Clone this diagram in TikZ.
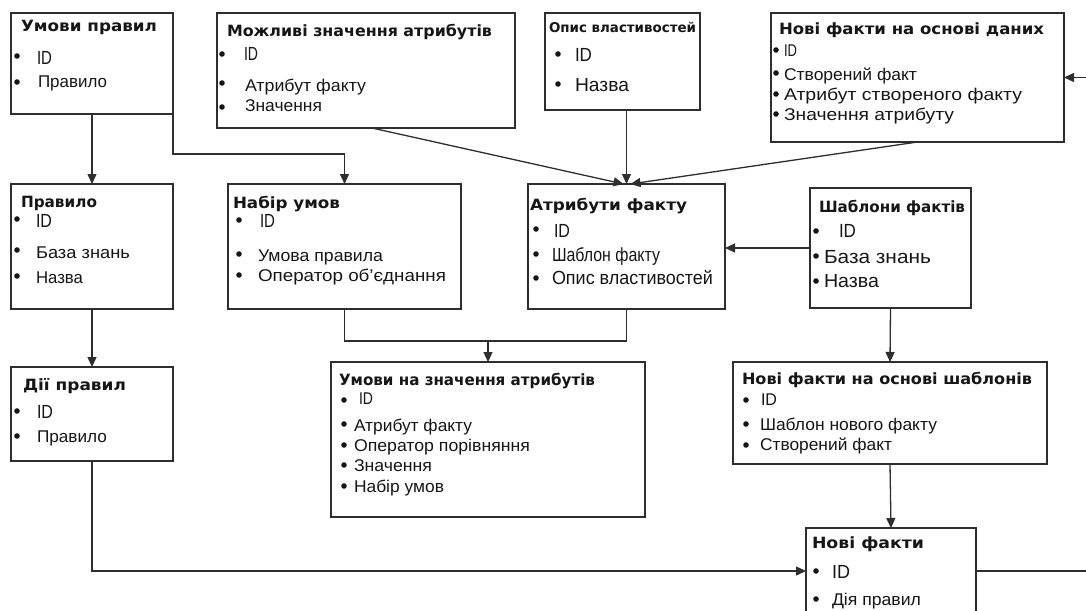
\documentclass[tikz,border=0pt]{standalone}
\usepackage{fontspec}
\usepackage{graphicx}
\setmainfont{Liberation Sans}
\newfontfamily\myTtlFam{DejaVu Sans}
\usetikzlibrary{arrows.meta,calc}
\definecolor{linec}{HTML}{2E2E2E}
\definecolor{txtc}{HTML}{161616}
\newcommand\fw[2]{\resizebox{#1pt}{\height}{#2}}
\newcommand\myTtl{\myTtlFam\bfseries\fontsize{15.5pt}{18pt}\selectfont}
\newcommand\mySmTtl{\myTtlFam\bfseries\fontsize{13.5pt}{16pt}\selectfont}
\newcommand\myItm{\fontsize{17pt}{20pt}\selectfont}
\newcommand\myBig{\fontsize{19pt}{22pt}\selectfont}
\newcommand\bl[2]{\fill[txtc] (#1,#2) circle[radius=2.8pt];}
\tikzset{
  entbox/.style={draw=linec, line width=1.3pt, rectangle, inner sep=0pt, outer sep=0pt, anchor=north west, fill=white},
  ttl/.style={anchor=base west, inner sep=0pt, outer sep=0pt, text=txtc, font=\myTtl},
  smttl/.style={anchor=base west, inner sep=0pt, outer sep=0pt, text=txtc, font=\mySmTtl},
  itm/.style={anchor=base west, inner sep=0pt, outer sep=0pt, text=txtc, font=\myItm},
  bigitm/.style={anchor=base west, inner sep=0pt, outer sep=0pt, text=txtc, font=\myBig},
  conn/.style={draw=linec, line width=1.3pt},
  arr/.style={conn, -{Triangle[length=10pt,width=9pt]}}
}
\begin{document}
\begin{tikzpicture}[x=1pt,y=-1pt]
\useasboundingbox (0,0) rectangle (1086,610);
\fill[white] (0,0) rectangle (1086,610);

% ---------- entity boxes ----------
\node[entbox, minimum width=162pt, minimum height=101pt] (ump) at (11,13) {};
\node[entbox, minimum width=298pt, minimum height=115pt] (mzn) at (217,13) {};
\node[entbox, minimum width=155pt, minimum height=97pt]  (opv) at (545,13) {};
\node[entbox, minimum width=293pt, minimum height=129pt] (nfd) at (771,13) {};
\node[entbox, minimum width=162pt, minimum height=125pt] (prv) at (11,184) {};
\node[entbox, minimum width=233pt, minimum height=125pt] (nbu) at (228,184) {};
\node[entbox, minimum width=197pt, minimum height=125pt] (atf) at (528,184) {};
\node[entbox, minimum width=161pt, minimum height=120pt] (shf) at (810,188) {};
\node[entbox, minimum width=162pt, minimum height=94pt]  (dip) at (11,367) {};
\node[entbox, minimum width=314pt, minimum height=155pt] (uza) at (331,362) {};
\node[entbox, minimum width=314pt, minimum height=102pt] (nfs) at (733,362) {};
\node[entbox, minimum width=170pt, minimum height=86pt]  (nf)  at (806,528) {};

% ---------- connectors ----------
\draw[arr] (ump.south) -- (prv.north);
\draw[arr] (ump.south east) -- ++(0,40) -| (nbu.north);
\draw[arr] ($(mzn.south)+(6,0)$) -- ($(atf.north)+(-3,0)$);
\draw[arr] (opv.south -| atf.north) -- (atf.north);
\draw[arr] (nfd.south) -- ($(atf.north)+(4,0)$);
\coordinate (extin) at ($(nfd.east)+(22,0)$);
\draw[arr] (extin) -- (nfd.east);
\draw[arr] (shf.west) -- (shf.west -| atf.east);
\draw[arr] (prv.south) -- (dip.north);
\coordinate (jn) at ($(nbu.south)+(0,32)$);
\draw[conn] (nbu.south) -- (jn) -| (atf.south);
\draw[arr] (jn -| uza.north) -- (uza.north);
\draw[arr] (shf.south) -- (nfs.north);
\draw[arr] (nfs.south) -- (nf.north);
\draw[arr] (dip.south) |- (nf.west);
\coordinate (extout) at ($(nf.east)+(110,0)$);
\draw[conn] (nf.east) -- (extout);

% ---------- Умови правил ----------
\node[ttl] (umpT) at (21,32) {\fw{136}{Умови правил}};
\bl{17}{56}
\node[bigitm] (ump1) at (37,64) {\fw{15}{ID}};
\bl{17}{82}
\node[itm] (ump2) at (38,87) {\fw{69}{Правило}};

% ---------- Можливі значення атрибутів ----------
\node[ttl] (mznT) at (227,37) {\fw{265}{Можливі значення атрибутів}};
\bl{222}{54}
\node[bigitm] (mzn1) at (244,61) {\fw{14}{ID}};
\bl{222}{83}
\node[itm] (mzn2) at (245,92) {\fw{121}{Атрибут факту}};
\bl{222}{107}
\node[itm] (mzn3) at (245,111) {\fw{77}{Значення}};

% ---------- Опис властивостей ----------
\node[smttl] (opvT) at (549,33) {\fw{147}{Опис властивостей}};
\bl{558}{54}
\node[bigitm] (opv1) at (575,62) {\fw{17}{ID}};
\bl{558}{84}
\node[bigitm] (opv2) at (575,92) {\fw{54}{Назва}};

% ---------- Нові факти на основі даних ----------
\node[ttl] (nfdT) at (779,35) {\fw{265}{Нові факти на основі даних}};
\bl{776}{50}
\node[itm] (nfd1) at (784,57) {\fw{13}{ID}};
\bl{776}{73}
\node[itm] (nfd2) at (784,80) {\fw{133}{Створений факт}};
\bl{776}{94}
\node[itm] (nfd3) at (784,100) {\fw{238}{Атрибут створеного факту}};
\bl{776}{114}
\node[itm] (nfd4) at (784,120) {\fw{170}{Значення атрибуту}};

% ---------- Правило ----------
\node[ttl] (prvT) at (21,207) {\fw{76}{Правило}};
\bl{17}{219}
\node[bigitm] (prv1) at (36,227) {\fw{16}{ID}};
\bl{17}{250}
\node[itm] (prv2) at (36,258) {\fw{94}{База знань}};
\bl{17}{276}
\node[itm] (prv3) at (36,283) {\fw{47}{Назва}};

% ---------- Набір умов ----------
\node[ttl] (nbuT) at (233,208) {\fw{107}{Набір умов}};
\bl{239}{220}
\node[bigitm] (nbu1) at (260,227) {\fw{15}{ID}};
\bl{239}{254}
\node[itm] (nbu2) at (258,261) {\fw{125}{Умова правила}};
\bl{239}{275}
\node[itm] (nbu3) at (258,281) {\fw{188}{Оператор об’єднання}};

% ---------- Атрибути факту ----------
\node[ttl] (atfT) at (530,210) {\fw{157}{Атрибути факту}};
\bl{536}{229}
\node[bigitm] (atf1) at (554,237) {\fw{16}{ID}};
\bl{536}{254}
\node[bigitm] (atf2) at (552,261) {\fw{108}{Шаблон факту}};
\bl{536}{278}
\node[bigitm] (atf3) at (552,284) {\fw{161}{Опис властивостей}};

% ---------- Шаблони фактів ----------
\node[ttl] (shfT) at (819,212) {\fw{146}{Шаблони фактів}};
\bl{816}{231}
\node[bigitm] (shf1) at (839,237) {\fw{17}{ID}};
\bl{816}{256}
\node[bigitm] (shf2) at (824,263) {\fw{107}{База знань}};
\bl{816}{281}
\node[bigitm] (shf3) at (824,287) {\fw{55}{Назва}};

% ---------- Дії правил ----------
\node[ttl] (dipT) at (23,390) {\fw{103}{Дії правил}};
\bl{17}{411}
\node[bigitm] (dip1) at (37,418) {\fw{16}{ID}};
\bl{17}{436}
\node[itm] (dip2) at (37,442) {\fw{70}{Правило}};

% ---------- Умови на значення атрибутів ----------
\node[ttl] (uzaT) at (339,385) {\fw{256}{Умови на значення атрибутів}};
\bl{344}{400}
\node[itm] (uza1) at (359,404) {\fw{14}{ID}};
\bl{344}{424}
\node[itm] (uza2) at (354,431) {\fw{118}{Атрибут факту}};
\bl{344}{445}
\node[itm] (uza3) at (354,451) {\fw{176}{Оператор порівняння}};
\bl{344}{465}
\node[itm] (uza4) at (354,471) {\fw{78}{Значення}};
\bl{344}{486}
\node[itm] (uza5) at (354,492) {\fw{90}{Набір умов}};

% ---------- Нові факти на основі шаблонів ----------
\node[ttl] (nfsT) at (742,384) {\fw{290}{Нові факти на основі шаблонів}};
\bl{746}{400}
\node[itm] (nfs1) at (761,405) {\fw{16}{ID}};
\bl{746}{424}
\node[itm] (nfs2) at (760,430) {\fw{177}{Шаблон нового факту}};
\bl{746}{445}
\node[itm] (nfs3) at (760,450) {\fw{132}{Створений факт}};

% ---------- Нові факти ----------
\node[ttl] (nfT) at (812,548) {\fw{112}{Нові факти}};
\bl{816}{571}
\node[bigitm] (nf1) at (832,578) {\fw{18}{ID}};
\bl{816}{599}
\node[itm] (nf2) at (832,605) {\fw{89}{Дія правил}};
\end{tikzpicture}
\end{document}
